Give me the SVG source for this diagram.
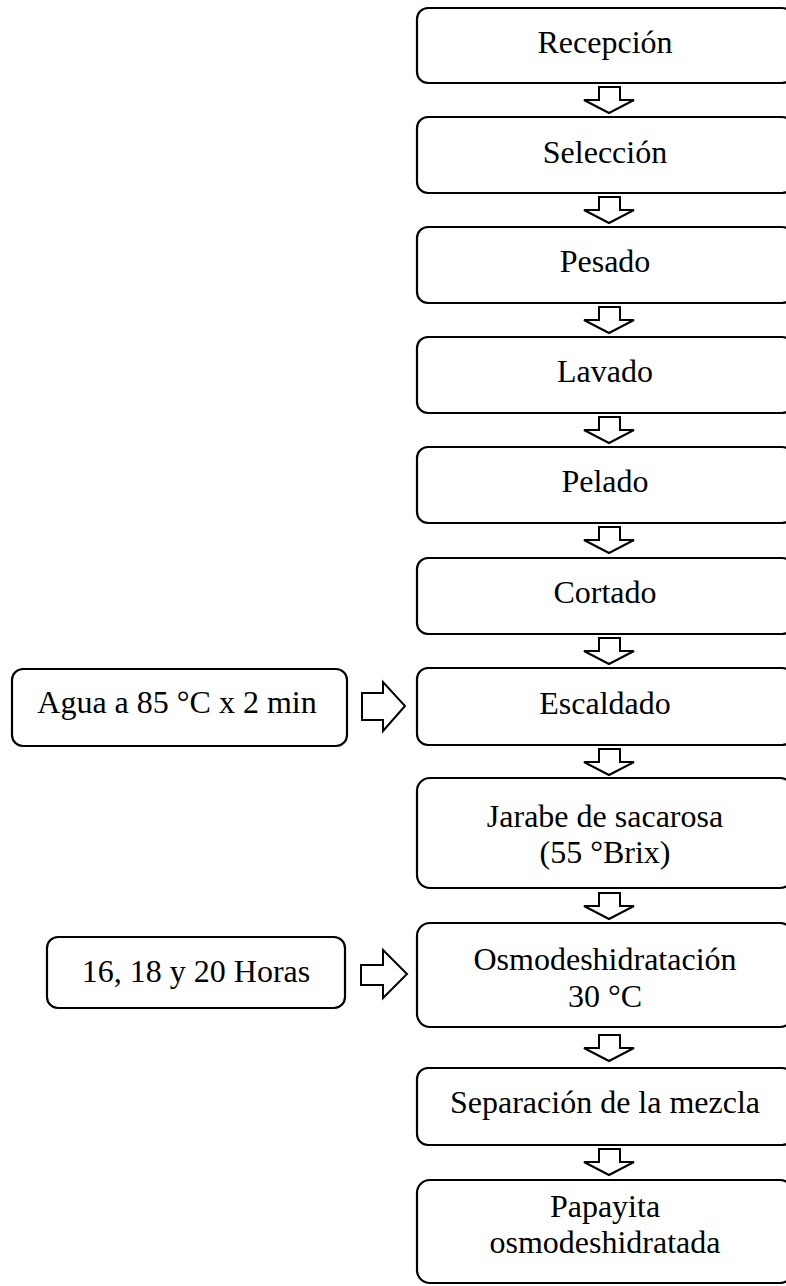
<svg xmlns="http://www.w3.org/2000/svg" xmlns:xlink="http://www.w3.org/1999/xlink" width="786" height="1286" viewBox="0 0 786 1286">
<style>
.box{fill:#fff;stroke:#000;stroke-width:2.2}
.arr{fill:#fff;stroke:#000;stroke-width:2;stroke-linejoin:miter}
text{font-family:"Liberation Serif","Times New Roman",serif;font-size:32px;fill:#000;text-anchor:middle}
</style>
<defs>
<path id="down" class="arr" d="M -10,0 H 11 V 13 H 25 L 0,26 L -25,13 H -10 Z"/>
</defs>
<rect width="786" height="1286" fill="#fff"/>
<g id="connectors">
<use xlink:href="#down" x="609" y="87"/>
<use xlink:href="#down" x="609" y="197"/>
<use xlink:href="#down" x="609" y="307"/>
<use xlink:href="#down" x="609" y="417"/>
<use xlink:href="#down" x="609" y="527"/>
<use xlink:href="#down" x="609" y="638"/>
<use xlink:href="#down" x="609" y="749"/>
<use xlink:href="#down" x="609" y="893"/>
<use xlink:href="#down" x="609" y="1035"/>
<use xlink:href="#down" x="609" y="1149"/>
<path class="arr" d="M 362,693 H 383 V 682 L 405,706 L 383,731 V 720 H 362 Z"/>
<path class="arr" d="M 361,965 H 383 V 950 L 407,974 L 383,998 V 985 H 361 Z"/>
</g>
<g id="recepcion"><rect class="box" x="417" y="8" width="376" height="75" rx="11"/><text x="605" y="53">Recepción</text></g>
<g id="seleccion"><rect class="box" x="417" y="117" width="376" height="76" rx="11"/><text x="605" y="163">Selección</text></g>
<g id="pesado"><rect class="box" x="417" y="227" width="376" height="76" rx="11"/><text x="605" y="272">Pesado</text></g>
<g id="lavado"><rect class="box" x="417" y="337" width="376" height="76" rx="11"/><text x="605" y="382">Lavado</text></g>
<g id="pelado"><rect class="box" x="417" y="447" width="376" height="76" rx="11"/><text x="605" y="492">Pelado</text></g>
<g id="cortado"><rect class="box" x="417" y="558" width="376" height="76" rx="11"/><text x="605" y="603">Cortado</text></g>
<g id="escaldado"><rect class="box" x="417" y="668" width="376" height="77" rx="11"/><text x="605" y="714">Escaldado</text></g>
<g id="jarabe"><rect class="box" x="417" y="778" width="376" height="110" rx="13"/><text x="605" y="827">Jarabe de sacarosa</text><text x="605" y="863">(55 °Brix)</text></g>
<g id="osmo"><rect class="box" x="417" y="923" width="376" height="104" rx="13"/><text x="605" y="970">Osmodeshidratación</text><text x="605" y="1007">30 °C</text></g>
<g id="separacion"><rect class="box" x="417" y="1068" width="376" height="77" rx="11"/><text x="605" y="1113">Separación de la mezcla</text></g>
<g id="papayita"><rect class="box" x="417" y="1180" width="376" height="103" rx="13"/><text x="605" y="1217">Papayita</text><text x="605" y="1253">osmodeshidratada</text></g>
<g id="agua"><rect class="box" x="12" y="669" width="335" height="77" rx="11"/><text x="177" y="713">Agua a 85 °C x 2 min</text></g>
<g id="horas"><rect class="box" x="47" y="937" width="298" height="71" rx="11"/><text x="196" y="982">16, 18 y 20 Horas</text></g>
</svg>
